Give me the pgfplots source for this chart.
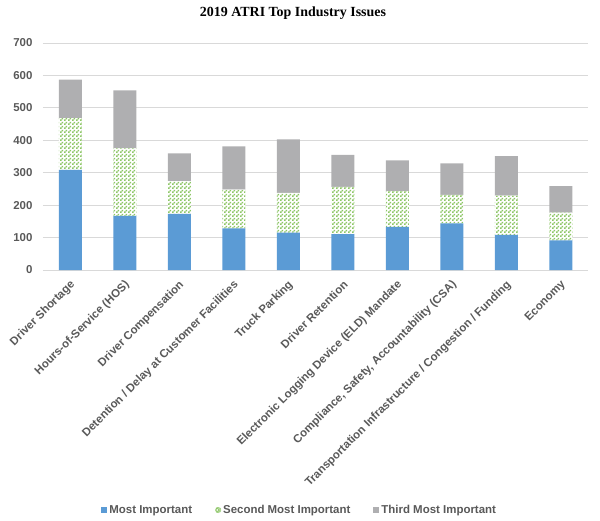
\documentclass[border=0pt]{standalone}
\usepackage{pgfplots}
\pgfplotsset{compat=1.18}
\usepackage{fontspec}
\setmainfont{Liberation Sans}
\newfontfamily\titlefont{Liberation Serif}
\usetikzlibrary{patterns}
\definecolor{cblue}{HTML}{5B9BD5}
\definecolor{cgreen}{HTML}{8CC665}
\definecolor{cgray}{HTML}{AFAFB1}
\definecolor{ctext}{HTML}{595959}
\definecolor{cgrid}{HTML}{D9D9D9}
\pgfdeclarepatternformonly{checker}{\pgfpointorigin}{\pgfpoint{4bp}{4bp}}{\pgfpoint{4bp}{4bp}}{%
  \pgfpathrectangle{\pgfpointorigin}{\pgfpoint{2bp}{2bp}}%
  \pgfpathrectangle{\pgfpoint{2bp}{2bp}}{\pgfpoint{2bp}{2bp}}%
  \pgfusepath{fill}}

\pgfplotstableread{
x first second third
0 309 159 119
1 167 208 179
2 173 101 86
3 128 120 133
4 115 123 165
5 111 145 99
6 133 110 95
7 144 88 97
8 108 121 122
9 91 86 82
}\datatable

\begin{document}
\begin{tikzpicture}[x=1bp,y=1bp]
\useasboundingbox (-43,-251) rectangle (557,270);
\node[font=\titlefont\bfseries\fontsize{14}{16}\selectfont, text=black] at (250,257) {2019 ATRI Top Industry Issues};
\begin{axis}[
  at={(0,0)}, anchor=south west,
  width=545bp, height=227bp, scale only axis,
  ybar stacked, bar width=23bp,
  xmin=-0.5, xmax=9.5, ymin=0, ymax=700,
  ytick={0,100,...,700},
  xtick={0,...,9},
  xticklabels={Driver Shortage, Hours-of-Service (HOS), Driver Compensation, Detention / Delay at Customer Facilities, Truck Parking, Driver Retention, Electronic Logging Device (ELD) Mandate, {Compliance, Safety, Accountability (CSA)}, Transportation Infrastructure / Congestion / Funding, Economy},
  major tick length=0pt,
  axis line style={draw=none},
  ymajorgrids, grid style={cgrid, line width=0.9bp},
  tick label style={font=\bfseries\fontsize{11.5}{13}\selectfont, text=ctext},
  /pgf/number format/assume math mode=true,
  yticklabel style={xshift=-7bp},
  xticklabel style={yshift=-13bp, xshift=3bp, rotate=45, anchor=east, inner sep=0pt},
  legend style={at={(0.471,0)}, anchor=center, yshift=-240bp, draw=none, font=\bfseries\fontsize{11.5}{13}\selectfont, text=ctext, legend columns=3, /tikz/every even column/.append style={column sep=21bp}, inner sep=0pt},
  legend cell align=left,
]
\addplot[fill=cblue, draw=none, legend image code/.code={\fill[cblue] (0bp,-3bp) rectangle (6bp,3bp);}] table[x=x, y=first] {\datatable};
\addlegendentry{Most Important}
\addplot[fill=white, draw=none, postaction={pattern=checker, pattern color=cgreen}, legend image code/.code={\fill[cgreen!70] (3bp,0bp) circle (3bp); \fill[white] (3bp,0bp) circle (1.3bp);}] table[x=x, y=second] {\datatable};
\addlegendentry{Second Most Important}
\addplot[fill=cgray, draw=none, legend image code/.code={\fill[cgray] (0bp,-3bp) rectangle (6bp,3bp);}] table[x=x, y=third] {\datatable};
\addlegendentry{Third Most Important}
\end{axis}
\end{tikzpicture}
\end{document}
